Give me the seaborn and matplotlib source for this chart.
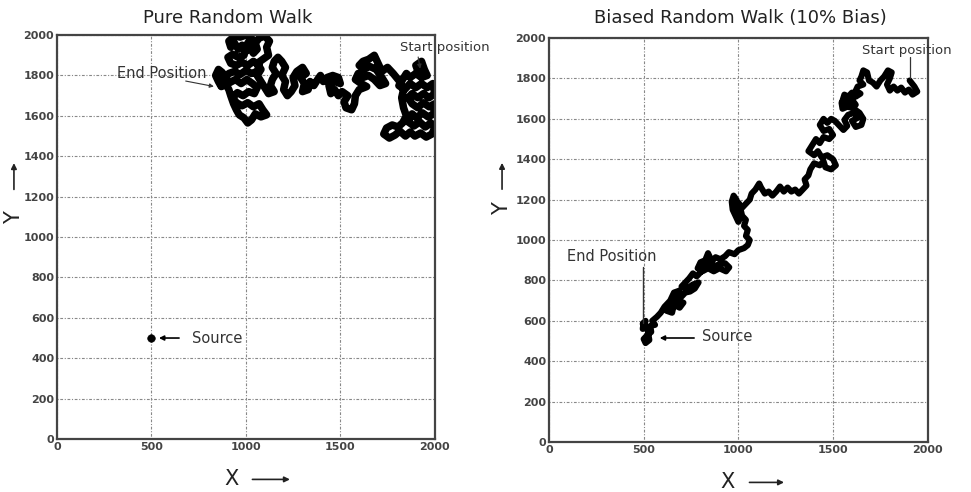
import matplotlib
matplotlib.use("Agg")
import matplotlib.pyplot as plt
import seaborn as sns
import pandas as pd

# ---------------- data (waypoints, data units) ----------------
pure_walk = [
    # right blob, start
    (1920, 1800), (1900, 1850), (1930, 1870), (1945, 1830), (1960, 1800), (1930, 1790),
    (1900, 1810), (1870, 1790), (1850, 1810), (1830, 1780), (1810, 1750), (1840, 1730),
    (1870, 1760), (1900, 1740), (1930, 1760), (1960, 1740), (1990, 1760), (2000, 1710),
    (1970, 1690), (1940, 1710), (1910, 1690), (1880, 1710), (1860, 1690), (1880, 1660),
    (1910, 1640), (1940, 1665), (1970, 1645), (2000, 1660), (1995, 1610), (1965, 1595),
    (1935, 1615), (1905, 1590), (1880, 1610), (1860, 1570), (1890, 1550), (1920, 1570),
    (1950, 1545), (1980, 1565), (2000, 1540), (1985, 1510), (1955, 1495), (1925, 1515),
    (1895, 1500), (1870, 1520), (1845, 1500), (1815, 1525), (1790, 1505), (1760, 1490),
    (1730, 1510), (1745, 1540), (1775, 1555), (1805, 1545), (1830, 1565), (1850, 1600),
    (1835, 1640), (1825, 1690), (1835, 1730), (1815, 1770), (1780, 1810), (1750, 1840),
    # upper-middle blob
    (1720, 1820), (1700, 1860), (1680, 1900), (1650, 1880), (1620, 1870), (1600, 1850),
    (1625, 1830), (1655, 1845), (1690, 1830), (1720, 1790), (1740, 1760), (1710, 1750),
    (1680, 1780), (1650, 1800), (1620, 1790), (1595, 1810), (1580, 1780), (1610, 1760),
    (1640, 1745), (1600, 1730),
    # left-middle
    (1580, 1700), (1575, 1660), (1560, 1630), (1530, 1640), (1520, 1670), (1540, 1700),
    (1510, 1720), (1490, 1700), (1470, 1730), (1450, 1710), (1440, 1750), (1470, 1770),
    (1500, 1760), (1490, 1790), (1460, 1800), (1430, 1790), (1410, 1770), (1395, 1800),
    (1380, 1780),
    # middle bumps
    (1360, 1750), (1340, 1770), (1330, 1730), (1300, 1720), (1310, 1760), (1290, 1790),
    (1320, 1810), (1300, 1840), (1270, 1820), (1250, 1790), (1260, 1750), (1240, 1720),
    (1220, 1700), (1200, 1730), (1210, 1770), (1190, 1800), (1210, 1840), (1190, 1870),
    (1170, 1890), (1150, 1870), (1140, 1840), (1160, 1810), (1140, 1780), (1130, 1750),
    (1150, 1720), (1120, 1710), (1100, 1740),
    # left blob
    (1080, 1770), (1060, 1800), (1080, 1830), (1060, 1860), (1090, 1880), (1120, 1900),
    (1110, 1940), (1125, 1970), (1100, 1995), (1070, 1985), (1050, 1960), (1060, 1930),
    (1040, 1910), (1020, 1940), (1000, 1920), (980, 1950), (960, 1930), (940, 1960),
    (920, 1940), (910, 1970), (940, 1995), (970, 1990), (1000, 2000), (1030, 1985),
    (1010, 1960), (990, 1900), (960, 1890), (930, 1905), (905, 1890), (920, 1860),
    (950, 1850), (980, 1865), (1010, 1850), (1040, 1870), (1070, 1850), (1060, 1820),
    (1030, 1810), (1000, 1825), (970, 1805), (940, 1820), (910, 1810), (890, 1790),
    (915, 1765), (945, 1780), (975, 1760), (1005, 1780), (1035, 1760), (1060, 1740),
    (1045, 1710), (1015, 1720), (985, 1700), (955, 1715), (930, 1690), (950, 1665),
    (980, 1650), (1010, 1665), (1040, 1645), (1070, 1660), (1090, 1630), (1110, 1605),
    (1080, 1595), (1050, 1610), (1030, 1580), (1010, 1565), (990, 1590), (965, 1605),
    (950, 1630), (935, 1660), (920, 1700), (910, 1730), (895, 1755), (870, 1745),
    (855, 1770), (840, 1800), (855, 1830), (875, 1815), (880, 1780), (870, 1750),
]

biased_walk = [
    (1905, 1790), (1930, 1760), (1945, 1735), (1920, 1720), (1900, 1745), (1880, 1730),
    (1860, 1755), (1840, 1740), (1820, 1760), (1800, 1740), (1785, 1770), (1800, 1800),
    (1810, 1830), (1790, 1840), (1770, 1810), (1750, 1790), (1730, 1760),
    (1710, 1780), (1690, 1790), (1680, 1830), (1660, 1840), (1650, 1810), (1640, 1790),
    (1660, 1770), (1630, 1760), (1620, 1740), (1645, 1725),
    (1620, 1710), (1600, 1730), (1580, 1710), (1560, 1720), (1550, 1690), (1575, 1680),
    (1600, 1695), (1620, 1670), (1600, 1655), (1575, 1660), (1550, 1650), (1545, 1680),
    (1570, 1700), (1590, 1675), (1610, 1650),
    (1640, 1630), (1660, 1600), (1650, 1570), (1620, 1560), (1600, 1590), (1630, 1605),
    (1610, 1630), (1580, 1620), (1560, 1595), (1575, 1565), (1555, 1545), (1530, 1570),
    (1510, 1590), (1490, 1600), (1470, 1580), (1450, 1600), (1430, 1570), (1450, 1540),
    (1480, 1550), (1500, 1520), (1480, 1500), (1450, 1510), (1430, 1480), (1410, 1500),
    (1390, 1470), (1370, 1440), (1400, 1420), (1420, 1440), (1440, 1410), (1470, 1420),
    (1500, 1400), (1515, 1370), (1490, 1350), (1460, 1360), (1450, 1390), (1430, 1370),
    (1400, 1380), (1380, 1350), (1370, 1320),
    (1350, 1300), (1360, 1270), (1340, 1250), (1320, 1230),
    (1300, 1250), (1280, 1240), (1260, 1260), (1240, 1240), (1220, 1265), (1200, 1240),
    (1180, 1220), (1160, 1240), (1140, 1230), (1120, 1260), (1110, 1280), (1090, 1250),
    (1070, 1230), (1060, 1200), (1040, 1180), (1020, 1160), (1000, 1170), (990, 1200),
    (975, 1220), (965, 1190), (970, 1150), (985, 1120), (1000, 1090), (1010, 1110),
    (1000, 1150), (1005, 1180), (1020, 1120),
    (1040, 1100), (1030, 1070), (1050, 1050), (1040, 1020), (1060, 1000), (1050, 975),
    (1030, 960), (1000, 950), (980, 930), (950, 940), (930, 920),
    (905, 905), (880, 915), (860, 895), (840, 935), (825, 900), (800, 890),
    (785, 860), (810, 845), (840, 860), (870, 845), (900, 860), (935, 845),
    (952, 865), (930, 885), (900, 880), (870, 870), (845, 885), (820, 870),
    (800, 840), (780, 820), (760, 835), (740, 810), (720, 790), (700, 770),
    (730, 760), (760, 780), (790, 790), (770, 760), (745, 745), (720, 740),
    (700, 720), (680, 700), (710, 690), (690, 665), (660, 680), (640, 660),
    (620, 650), (650, 640), (670, 720), (690, 750), (660, 740), (640, 700),
    (610, 670), (590, 640), (570, 620), (545, 600), (560, 580), (535, 575),
    (540, 545), (520, 530), (500, 510), (510, 490), (530, 505), (520, 560),
    (500, 590), (495, 560), (510, 600), (495, 585),
]

source_x = [500]
source_y = [500]

x_ticks = [0, 500, 1000, 1500, 2000]
y_ticks = [0, 200, 400, 600, 800, 1000, 1200, 1400, 1600, 1800, 2000]
titles = ["Pure Random Walk", "Biased Random Walk (10% Bias)"]

pure_df = pd.DataFrame(pure_walk, columns=["x", "y"])
biased_df = pd.DataFrame(biased_walk, columns=["x", "y"])

# ---------------- style ----------------
sns.set_style("white")
plt.rcParams["font.family"] = ["DejaVu Sans"]

fig = plt.figure(figsize=(9.71, 4.92), dpi=100)
ax1 = fig.add_axes([0.0587, 0.1077, 0.389, 0.821])
ax2 = fig.add_axes([0.5654, 0.1016, 0.390, 0.821])

grid_ls = (0, (1, 1.5, 2.5, 1.5))
txt = "#333333"

for ax, title, tx, tpad in zip([ax1, ax2], titles, [0.452, 0.505], [9, 11]):
    ax.set_xlim(0, 2000)
    ax.set_ylim(0, 2000)
    ax.set_xticks(x_ticks)
    ax.set_yticks(y_ticks)
    ax.set_xticklabels([str(v) for v in x_ticks], fontsize=8, color=txt, fontweight="bold")
    ax.set_yticklabels([str(v) for v in y_ticks], fontsize=8, color=txt, fontweight="bold")
    ax.tick_params(direction="in", length=3, width=1, colors="#444444", pad=2)
    ax.grid(True, linestyle=grid_ls, color="#888888", linewidth=0.8)
    for s in ax.spines.values():
        s.set_color("#444444")
        s.set_linewidth(1.6)
    ax.set_title(title, fontsize=13, color="#222222", pad=tpad, x=tx)

# walks
sns.lineplot(data=pure_df, x="x", y="y", sort=False, estimator=None, color="black",
             linewidth=5.4, ax=ax1, solid_joinstyle="round", solid_capstyle="round")
sns.lineplot(data=biased_df, x="x", y="y", sort=False, estimator=None, color="black",
             linewidth=4.4, ax=ax2, solid_joinstyle="round", solid_capstyle="round")
sns.scatterplot(x=source_x, y=source_y, color="black", s=30, ax=ax1, edgecolor="black", zorder=5)
for ax in (ax1, ax2):
    ax.set_xlabel("")
    ax.set_ylabel("")

# annotations - left
ax1.text(1815, 1940, "Start position", fontsize=9.5, color=txt, va="center", ha="left", clip_on=False)
ax1.annotate("", xy=(1925, 1820), xytext=(1910, 1905),
             arrowprops=dict(arrowstyle="-|>", color=txt, lw=0.8, mutation_scale=6))
ax1.text(317, 1812, "End Position", fontsize=10.5, color=txt, va="center", ha="left")
ax1.annotate("", xy=(845, 1743), xytext=(667, 1775),
             arrowprops=dict(arrowstyle="-|>", color=txt, lw=0.8, mutation_scale=6))
ax1.text(714, 500, "Source", fontsize=10.5, color=txt, va="center", ha="left")
ax1.annotate("", xy=(525, 500), xytext=(661, 500),
             arrowprops=dict(arrowstyle="-|>", color="black", lw=1.2, mutation_scale=7))

# annotations - right
ax2.text(1652, 1940, "Start position", fontsize=9.5, color=txt, va="center", ha="left", clip_on=False)
ax2.plot([1905, 1905], [1906, 1800], color=txt, lw=0.9)
ax2.text(95, 920, "End Position", fontsize=10.5, color=txt, va="center", ha="left")
ax2.plot([496, 496], [866, 590], color=txt, lw=1.0)
ax2.text(807, 520, "Source", fontsize=10.5, color=txt, va="center", ha="left")
ax2.annotate("", xy=(570, 515), xytext=(781, 515),
             arrowprops=dict(arrowstyle="-|>", color="black", lw=1.2, mutation_scale=7))

# axis labels with arrows
for ax, xc, xa0, xa1, yl, ylc, ya0, ya1, xoff in [
        (ax1, 0.463, 0.51, 0.624, -0.114, 0.547, 0.611, 0.69, -0.10),
        (ax2, 0.472, 0.522, 0.628, -0.124, 0.579, 0.619, 0.698, -0.10)]:
    ax.text(xc, xoff, "X", transform=ax.transAxes, fontsize=15, ha="center", va="center",
            color="#222222", clip_on=False)
    ax.annotate("", xy=(xa1, xoff), xytext=(xa0, xoff), xycoords="axes fraction",
                textcoords="axes fraction",
                arrowprops=dict(arrowstyle="-|>", color="#222222", lw=1.2, mutation_scale=8))
    ax.text(yl, ylc, "Y", transform=ax.transAxes, fontsize=15, ha="center", va="center",
            rotation=90, color="#222222", clip_on=False)
    ax.annotate("", xy=(yl, ya1), xytext=(yl, ya0), xycoords="axes fraction",
                textcoords="axes fraction",
                arrowprops=dict(arrowstyle="-|>", color="#222222", lw=1.2, mutation_scale=8))

fig.savefig("out.png", dpi=100)
